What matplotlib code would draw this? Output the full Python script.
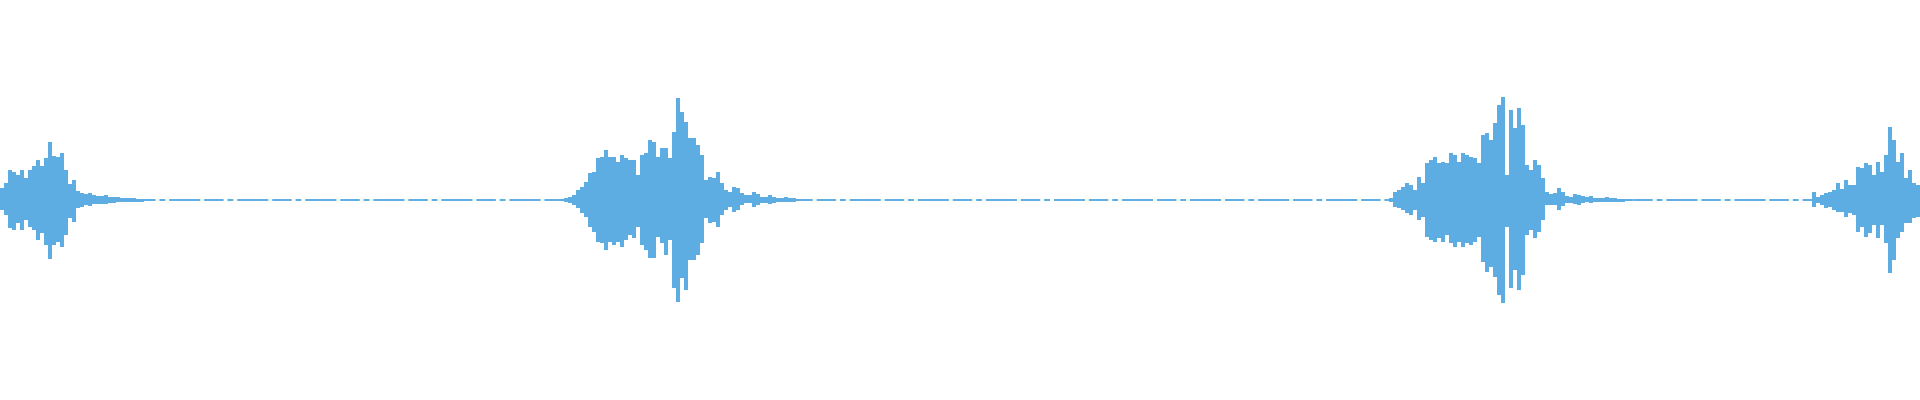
import numpy as np
import matplotlib
matplotlib.use("Agg")
import matplotlib.pyplot as plt

WAVE_COLOR = "#5DADE2"

# time axis is in frames (1 frame = 1 px column of the 1920 px strip)
total_frames = 1920
frame_step = 4

# peak amplitude (upper / lower) per 4-frame block, for each of the four clips
clip1_start = 0
clip1_top = [12, 17, 30, 28, 25, 30, 22, 30, 34, 40, 34, 42, 58, 44, 43, 47, 30, 16, 20,
             9, 7, 6, 7, 5, 4, 4, 5, 3, 3, 3, 2, 2, 2, 2, 1.5, 1.5, 1.5, 1]
clip1_bot = [10, 15, 28, 30, 23, 30, 20, 27, 30, 40, 33, 45, 59, 45, 42, 47, 35, 18, 22,
             8, 7, 5, 6, 4, 4, 4, 4, 3, 3, 2, 2, 2, 2, 2, 1.5, 1.5, 1, 1]

clip2_start = 560
clip2_top = [1, 2, 3, 5, 10, 13, 18, 27, 28, 42, 43, 50, 43, 43, 38, 45, 42, 40, 40, 25,
             45, 47, 60, 58, 43, 52, 52, 42, 68, 102, 88, 78, 62, 62, 55, 45, 20, 23, 22, 28,
             17, 10, 8, 13, 12, 7, 5, 5, 8, 6, 3, 3, 5, 3, 2, 2, 3, 2, 2, 1, 1]
clip2_bot = [1, 2, 3, 5, 8, 13, 17, 27, 32, 42, 43, 50, 42, 45, 42, 47, 40, 35, 38, 27,
             45, 50, 58, 58, 37, 43, 55, 40, 88, 102, 78, 90, 60, 60, 55, 43, 18, 23, 22, 27,
             15, 10, 7, 12, 10, 5, 3, 3, 7, 5, 3, 3, 4, 3, 2, 2, 2, 2, 2, 1, 1]

clip3_start = 1385
clip3_top = [1, 2, 8, 10, 13, 17, 15, 10, 23, 17, 37, 40, 43, 37, 38, 37, 47, 45, 38, 47,
             45, 43, 42, 37, 65, 67, 60, 77, 95, 103, 25, 90, 72, 92, 75, 35, 30, 40, 35, 22,
             8, 6, 7, 12, 8, 4, 3, 6, 5, 4, 3, 4, 2, 2, 2, 3, 2, 2, 1.5, 1.5, 1, 1]
clip3_bot = [1, 2, 7, 8, 10, 13, 15, 10, 20, 17, 37, 40, 42, 38, 42, 35, 43, 47, 42, 47,
             43, 45, 42, 37, 62, 72, 67, 77, 95, 103, 27, 88, 70, 90, 75, 35, 30, 38, 32, 20,
             5, 5, 5, 10, 6, 3, 3, 4, 5, 3, 2, 3, 2, 2, 2, 2, 2, 2, 1.5, 1.5, 1, 1]

clip4_start = 1812
clip4_top = [8, 3, 5, 7, 8, 10, 17, 11, 20, 15, 15, 33, 32, 37, 35, 25, 38, 28, 45, 73,
             60, 38, 47, 22, 30, 17, 15]
clip4_bot = [7, 3, 5, 8, 7, 10, 12, 12, 17, 13, 15, 32, 27, 37, 33, 25, 38, 25, 43, 73,
             60, 38, 32, 23, 23, 18, 17]

clips = [
    (clip1_start, clip1_top, clip1_bot),
    (clip2_start, clip2_top, clip2_bot),
    (clip3_start, clip3_top, clip3_bot),
    (clip4_start, clip4_top, clip4_bot),
]

fig = plt.figure(figsize=(19.2, 4), dpi=100)
ax = fig.add_axes([0, 0, 1, 1])

# quiet stretches: thin broken centre line
ax.axhline(0, color=WAVE_COLOR, linewidth=1.4, dashes=(10, 2, 3, 2, 16, 2))

for start, top, bot in clips:
    top = np.array(top, dtype=float)
    bot = np.array(bot, dtype=float)
    x = start + frame_step * np.arange(len(top))
    ax.bar(x, top + bot, bottom=-bot, width=frame_step, align="edge",
           color=WAVE_COLOR, linewidth=0)

ax.set_xlim(0, total_frames)
ax.set_ylim(-200, 200)
ax.axis("off")

fig.savefig("out.png", dpi=100, facecolor="white")
